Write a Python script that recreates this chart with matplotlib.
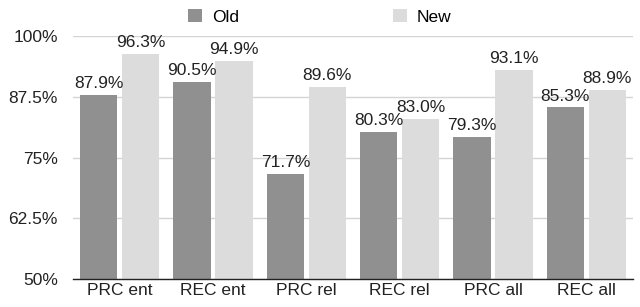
import matplotlib as mpl
import matplotlib.pyplot as plt
import numpy as np

mpl.rcParams['font.family'] = ['Liberation Sans', 'DejaVu Sans']

# Data
categories = ['PRC ent', 'REC ent', 'PRC rel', 'REC rel', 'PRC all', 'REC all']
old_vals = [87.9, 90.5, 71.7, 80.3, 79.3, 85.3]
new_vals = [96.3, 94.9, 89.6, 83.0, 93.1, 88.9]
yticks = [50, 62.5, 75, 87.5, 100]
ytick_labels = ['50%', '62.5%', '75%', '87.5%', '100%']

old_color = '#8f908f'
new_color = '#dcdcdc'
fs = 12.5

fig = plt.figure(figsize=(6.4, 3.07), dpi=100)
ax = fig.add_axes([73/640, 1-279/307, 560/640, 243/307])

x = np.arange(len(categories))
w = 0.4
off = 0.225
b_old = ax.bar(x - off, [v - 50 for v in old_vals], w, bottom=50, color=old_color, label='Old', zorder=2)
b_new = ax.bar(x + off, [v - 50 for v in new_vals], w, bottom=50, color=new_color, label='New', zorder=2)

for xi, v in zip(x - off, old_vals):
    ax.text(xi, v + 0.8, '%.1f%%' % v, ha='center', va='bottom', fontsize=fs, color='#222222')
for xi, v in zip(x + off, new_vals):
    ax.text(xi, v + 0.8, '%.1f%%' % v, ha='center', va='bottom', fontsize=fs, color='#222222')

ax.set_xlim(-0.5, len(categories) - 0.5)
ax.set_ylim(50, 100)
ax.set_yticks(yticks)
ax.set_yticklabels(ytick_labels)
ax.set_xticks(x)
ax.set_xticklabels(categories)
ax.tick_params(axis='both', length=0, labelsize=fs, colors='#222222')
ax.tick_params(axis='y', pad=11)
ax.tick_params(axis='x', pad=3)
ax.grid(axis='y', color='#d4d4d4', linewidth=1, zorder=0)
for s in ['top', 'right', 'left']:
    ax.spines[s].set_visible(False)
ax.spines['bottom'].set_color('#222222')
ax.spines['bottom'].set_linewidth(1)
ax.spines['bottom'].set_zorder(3)

fig.legend(handles=[b_old, b_new], loc='center', bbox_to_anchor=(0.5, 1-17/307),
           ncol=2, frameon=False, fontsize=fs, handlelength=0.8, handleheight=0.8,
           columnspacing=8.9, handletextpad=0.55)

plt.savefig('out.png', dpi=100)
